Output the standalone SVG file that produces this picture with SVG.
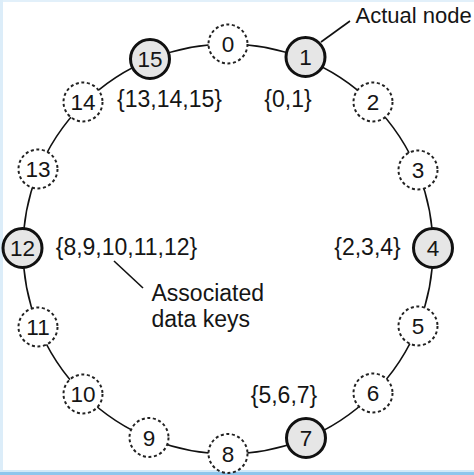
<svg xmlns="http://www.w3.org/2000/svg" width="474" height="475" viewBox="0 0 474 475">
<style>
text{font-family:"Liberation Sans",Arial,sans-serif;font-size:23px;fill:#151515}
.n text{text-anchor:middle;font-size:22.5px}
.actual circle{fill:#e6e6e6;stroke:#111;stroke-width:3}
.virt circle{fill:#fff;stroke:#222;stroke-width:2;stroke-dasharray:3 2.6}
.ring{fill:none;stroke:#111;stroke-width:1.6}
.lead{stroke:#111;stroke-width:1.6}
.lbl{text-anchor:middle}
.note{font-size:22px}
</style>
<rect width="474" height="475" fill="#fff"/>
<rect x="0" y="0" width="474" height="2" fill="#e2f0fa"/>
<rect x="0" y="0" width="3" height="475" fill="#dcedf9"/>
<rect x="0" y="470" width="474" height="2" fill="#d2e9f7"/>
<rect x="0" y="472" width="474" height="3" fill="#8ec6ec"/>
<g id="connectors">
<circle class="ring" cx="228" cy="249" r="205"/>
<line class="lead" x1="321" y1="42" x2="350" y2="21"/>
<line class="lead" x1="114" y1="261" x2="143" y2="288"/>
</g>
<g id="node0" class="n virt"><circle cx="228" cy="44" r="19.5"/><text x="228" y="52">0</text></g>
<g id="node1" class="n actual"><circle cx="305.5" cy="57" r="19.5"/><text x="305.5" y="65">1</text></g>
<g id="node2" class="n virt"><circle cx="373" cy="102" r="19.5"/><text x="373" y="110">2</text></g>
<g id="node3" class="n virt"><circle cx="418" cy="170" r="19.5"/><text x="418" y="178">3</text></g>
<g id="node4" class="n actual"><circle cx="433" cy="248" r="19.5"/><text x="433" y="256">4</text></g>
<g id="node5" class="n virt"><circle cx="418" cy="326" r="19.5"/><text x="418" y="334">5</text></g>
<g id="node6" class="n virt"><circle cx="373" cy="393" r="19.5"/><text x="373" y="401">6</text></g>
<g id="node7" class="n actual"><circle cx="306" cy="438" r="19.5"/><text x="306" y="446">7</text></g>
<g id="node8" class="n virt"><circle cx="228" cy="453.5" r="19.5"/><text x="228" y="461.5">8</text></g>
<g id="node9" class="n virt"><circle cx="149" cy="437.5" r="19.5"/><text x="149" y="445.5">9</text></g>
<g id="node10" class="n virt"><circle cx="83" cy="394" r="19.5"/><text x="83" y="402">10</text></g>
<g id="node11" class="n virt"><circle cx="38" cy="327" r="19.5"/><text x="38" y="335">11</text></g>
<g id="node12" class="n actual"><circle cx="22.5" cy="248" r="19.5"/><text x="22.5" y="256">12</text></g>
<g id="node13" class="n virt"><circle cx="38" cy="169" r="19.5"/><text x="38" y="177">13</text></g>
<g id="node14" class="n virt"><circle cx="83" cy="102" r="19.5"/><text x="83" y="110">14</text></g>
<g id="node15" class="n actual"><circle cx="150" cy="59" r="19.5"/><text x="150" y="67">15</text></g>
<g id="labels">
<text class="lbl" x="169.5" y="107">{13,14,15}</text>
<text class="lbl" x="288" y="107">{0,1}</text>
<text class="lbl" x="367.5" y="255">{2,3,4}</text>
<text class="lbl" x="126.5" y="255">{8,9,10,11,12}</text>
<text class="lbl" x="284" y="403">{5,6,7}</text>
<text class="note" x="355.5" y="23">Actual node</text>
<text x="151.5" y="301">Associated</text>
<text x="151.5" y="327">data keys</text>
</g>
</svg>
